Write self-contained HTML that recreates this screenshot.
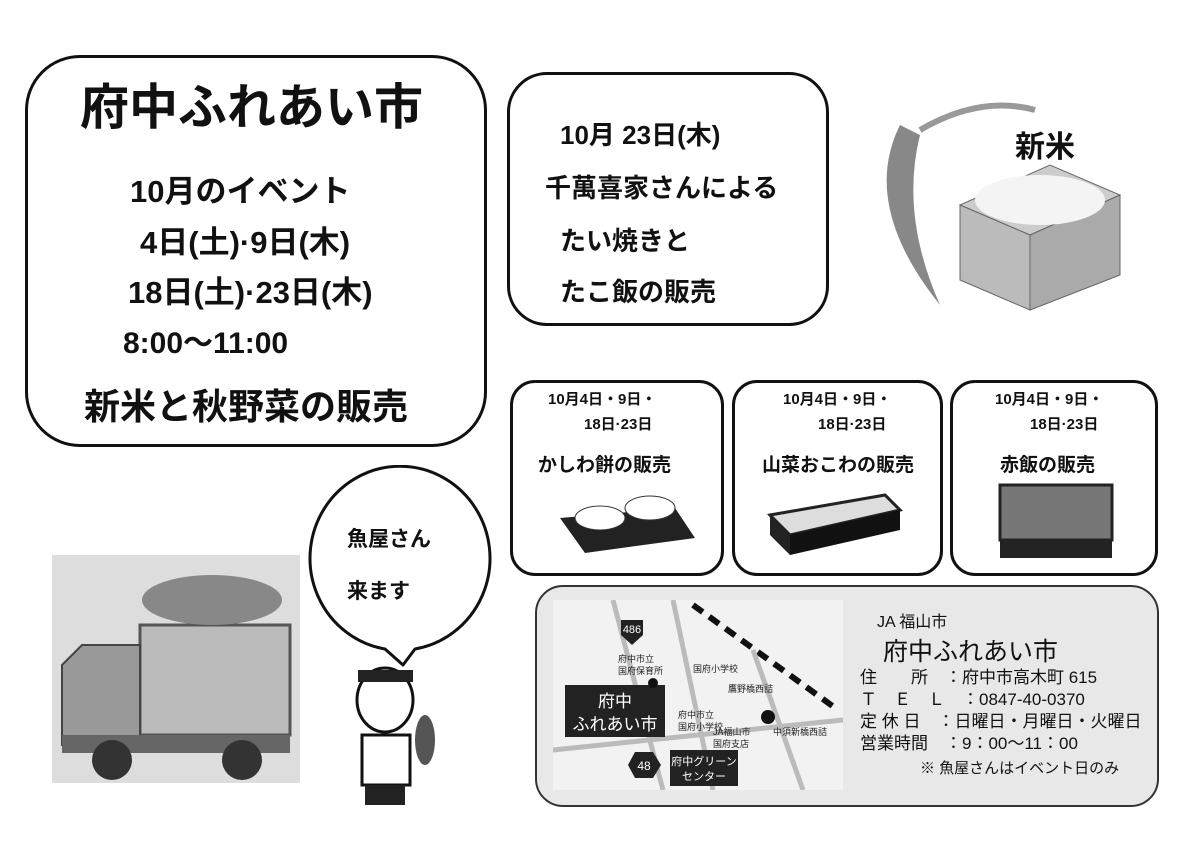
<!DOCTYPE html>
<html><head><meta charset="utf-8"><style>
body{margin:0;width:1200px;height:853px;background:#fff;position:relative;overflow:hidden;font-family:"Liberation Sans","Noto Sans CJK JP",sans-serif;color:#111}
.a{position:absolute;white-space:nowrap}
.box{position:absolute;border:3px solid #111;background:#fff}
.b{font-weight:bold}
</style></head><body>
<div class="box" style="left:25px;top:55px;width:456px;height:386px;border-radius:55px"></div>
<div class="a b" style="left:80px;top:68px;font-size:49px">府中ふれあい市</div>
<div class="a b" style="left:130px;top:166px;font-size:31px">10月のイベント</div>
<div class="a b" style="left:140px;top:217px;font-size:31px">4日(土)·9日(木)</div>
<div class="a b" style="left:128px;top:267px;font-size:31px">18日(土)·23日(木)</div>
<div class="a b" style="left:123px;top:318px;font-size:30px">8:00～11:00</div>
<div class="a b" style="left:84px;top:378px;font-size:36px">新米と秋野菜の販売</div>

<div class="box" style="left:507px;top:72px;width:316px;height:248px;border-radius:40px"></div>
<div class="a b" style="left:560px;top:115px;font-size:26px">10月 23日(木)</div>
<div class="a b" style="left:545px;top:168px;font-size:26px">千萬喜家さんによる</div>
<div class="a b" style="left:560px;top:221px;font-size:26px">たい焼きと</div>
<div class="a b" style="left:560px;top:272px;font-size:26px">たこ飯の販売</div>

<svg class="a" style="left:860px;top:85px" width="280" height="230">
<path d="M40 40 Q0 120 80 220 Q40 130 60 50Z" fill="#888"/>
<path d="M60 45 Q120 10 175 25" stroke="#999" stroke-width="6" fill="none"/>
<polygon points="100,120 190,80 260,110 170,150" fill="#ccc" stroke="#666"/>
<polygon points="100,120 170,150 170,225 100,195" fill="#bbb" stroke="#666"/>
<polygon points="170,150 260,110 260,190 170,225" fill="#aaa" stroke="#666"/>
<ellipse cx="180" cy="115" rx="65" ry="25" fill="#f4f4f4"/>
</svg>
<div class="a b" style="left:1015px;top:122px;font-size:30px">新米</div>

<div class="box" style="left:510px;top:380px;width:208px;height:190px;border-radius:25px"></div>
<div class="box" style="left:732px;top:380px;width:205px;height:190px;border-radius:25px"></div>
<div class="box" style="left:950px;top:380px;width:202px;height:190px;border-radius:25px"></div>
<div class="a b" style="left:548px;top:388px;font-size:15px">10月4日・9日・</div>
<div class="a b" style="left:584px;top:413px;font-size:15px">18日·23日</div>
<div class="a b" style="left:538px;top:450px;font-size:19px">かしわ餅の販売</div>
<div class="a b" style="left:783px;top:388px;font-size:15px">10月4日・9日・</div>
<div class="a b" style="left:818px;top:413px;font-size:15px">18日·23日</div>
<div class="a b" style="left:762px;top:450px;font-size:19px">山菜おこわの販売</div>
<div class="a b" style="left:995px;top:388px;font-size:15px">10月4日・9日・</div>
<div class="a b" style="left:1030px;top:413px;font-size:15px">18日·23日</div>
<div class="a b" style="left:1000px;top:450px;font-size:19px">赤飯の販売</div>
<svg class="a" style="left:555px;top:478px" width="145" height="80"><path d="M5 40 L120 30 L140 60 L30 75Z" fill="#222"/><ellipse cx="45" cy="40" rx="25" ry="12" fill="#fff" stroke="#333"/><ellipse cx="95" cy="30" rx="25" ry="12" fill="#fff" stroke="#333"/></svg>
<svg class="a" style="left:765px;top:485px" width="140" height="75"><polygon points="5,30 120,10 135,25 25,50" fill="#ddd" stroke="#222" stroke-width="3"/><polygon points="5,30 25,50 25,70 5,50" fill="#222"/><polygon points="25,50 135,25 135,45 25,70" fill="#111"/></svg>
<svg class="a" style="left:995px;top:480px" width="125" height="85"><rect x="5" y="5" width="112" height="55" fill="#777" stroke="#222" stroke-width="3"/><polygon points="5,60 117,60 117,78 5,78" fill="#222"/></svg>

<svg class="a" style="left:52px;top:555px" width="248" height="228"><rect width="248" height="228" fill="#ddd"/><rect x="88" y="70" width="150" height="110" fill="#bbb" stroke="#555" stroke-width="3"/><path d="M10 110 L30 90 L88 90 L88 190 L10 190Z" fill="#999" stroke="#444" stroke-width="2"/><rect x="10" y="180" width="228" height="18" fill="#666"/><circle cx="60" cy="205" r="20" fill="#333"/><circle cx="190" cy="205" r="20" fill="#333"/><ellipse cx="160" cy="45" rx="70" ry="25" fill="#888"/></svg>

<svg class="a" style="left:305px;top:465px" width="195" height="210"><path d="M80 184 A90 92 0 1 1 110 184 L98 200 Z" fill="#fff" stroke="#111" stroke-width="3" stroke-linejoin="round"/></svg>
<div class="a b" style="left:347px;top:523px;font-size:21px">魚屋さん</div>
<div class="a b" style="left:347px;top:575px;font-size:21px">来ます</div>
<svg class="a" style="left:340px;top:655px" width="100" height="155"><ellipse cx="45" cy="45" rx="28" ry="32" fill="#fff" stroke="#111" stroke-width="3"/><rect x="18" y="15" width="55" height="12" fill="#222"/><rect x="22" y="80" width="48" height="50" fill="#fff" stroke="#111" stroke-width="3"/><rect x="25" y="130" width="40" height="20" fill="#222"/><ellipse cx="85" cy="85" rx="10" ry="25" fill="#555"/></svg>

<div class="a" style="left:535px;top:585px;width:620px;height:218px;border:2px solid #333;border-radius:28px;background:#e8e8e8"></div>
<svg class="a" style="left:553px;top:600px" width="290" height="190"><rect width="290" height="190" fill="#f2f2f2"/><path d="M140 5 L285 110" stroke="#111" stroke-width="6" stroke-dasharray="12 8"/><path d="M120 0 L160 190 M0 150 L290 120 M60 0 L110 190 M200 50 L250 190" stroke="#bbb" stroke-width="5"/><rect x="12" y="85" width="100" height="52" fill="#222"/><text x="62" y="107" fill="#fff" font-size="17" text-anchor="middle">府中</text><text x="62" y="130" fill="#fff" font-size="17" text-anchor="middle">ふれあい市</text><rect x="117" y="150" width="68" height="36" fill="#222"/><text x="151" y="165" fill="#fff" font-size="11" text-anchor="middle">府中グリーン</text><text x="151" y="180" fill="#fff" font-size="11" text-anchor="middle">センター</text><polygon points="82,152 100,152 108,165 100,178 82,178 75,165" fill="#222"/><text x="91" y="170" fill="#fff" font-size="12" text-anchor="middle">48</text><polygon points="68,20 90,20 90,35 79,45 68,35" fill="#222"/><text x="79" y="33" fill="#fff" font-size="11" text-anchor="middle">486</text><circle cx="215" cy="117" r="7" fill="#111"/><circle cx="100" cy="83" r="5" fill="#111"/><g font-size="9" fill="#222"><text x="65" y="62">府中市立</text><text x="65" y="74">国府保育所</text><text x="125" y="118">府中市立</text><text x="125" y="130">国府小学校</text><text x="160" y="135">JA福山市</text><text x="160" y="147">国府支店</text><text x="140" y="72">国府小学校</text><text x="175" y="92">鷹野橋西詰</text><text x="220" y="135">中須新橋西詰</text></g></svg>
<div class="a" style="left:877px;top:608px;font-size:16px">JA 福山市</div>
<div class="a" style="left:883px;top:632px;font-size:25px">府中ふれあい市</div>
<div class="a" style="left:860px;top:667px;font-size:17px;line-height:22px">住　　所　：府中市高木町 615<br>Ｔ　Ｅ　Ｌ　：0847-40-0370<br>定 休 日　：日曜日・月曜日・火曜日<br>営業時間　：9：00～11：00</div>
<div class="a" style="left:920px;top:757px;font-size:15px">※ 魚屋さんはイベント日のみ</div>
</body></html>
